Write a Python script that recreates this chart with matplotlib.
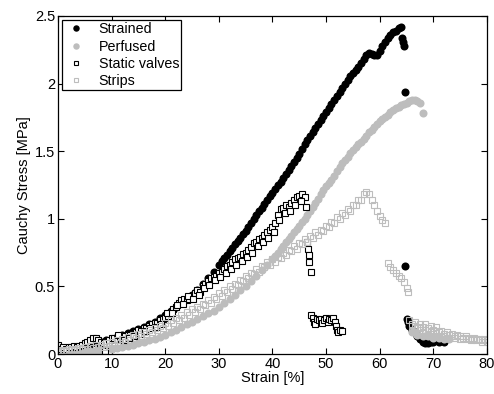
import matplotlib
matplotlib.use("Agg")
import matplotlib.pyplot as plt

plt.rcParams['font.family'] = ['Liberation Sans', 'DejaVu Sans']

# Each series: (strain [%], Cauchy stress [MPa]) pairs
strained = [
    (0, 0.02), (1, 0.03), (2, 0.04), (3, 0.045), (4, 0.05), (5, 0.06), (6, 0.07),
    (7, 0.08), (8, 0.09), (9, 0.10), (10, 0.11), (11, 0.125), (12, 0.14), (13, 0.155),
    (14, 0.17), (15, 0.185), (16, 0.20), (17, 0.22), (18, 0.24), (19, 0.265), (20, 0.29),
    (21, 0.32), (22, 0.35), (23, 0.38), (24, 0.41), (25, 0.44), (26, 0.47), (27, 0.52),
    (28, 0.56), (29, 0.61), (30, 0.66), (30.5, 0.685), (31, 0.71), (31.5, 0.735),
    (32, 0.76), (32.5, 0.785), (33, 0.81), (33.5, 0.835), (34, 0.86), (34.5, 0.885),
    (35, 0.91), (35.5, 0.94), (36, 0.97), (36.5, 1.00), (37, 1.03), (37.5, 1.055),
    (38, 1.08), (38.5, 1.11), (39, 1.14), (39.5, 1.165), (40, 1.19), (40.5, 1.22),
    (41, 1.25), (41.5, 1.275), (42, 1.30), (42.5, 1.33), (43, 1.36), (43.5, 1.39),
    (44, 1.42), (44.5, 1.45), (45, 1.48), (45.5, 1.515), (46, 1.55), (46.5, 1.58),
    (47, 1.61), (47.5, 1.64), (48, 1.67), (48.5, 1.70), (49, 1.73), (49.5, 1.76),
    (50, 1.79), (50.5, 1.82), (51, 1.85), (51.5, 1.88), (52, 1.91), (52.5, 1.94),
    (53, 1.97), (53.5, 2.00), (54, 2.03), (54.5, 2.055), (55, 2.08), (55.5, 2.10),
    (56, 2.12), (56.5, 2.15), (57, 2.18), (57.5, 2.21), (58, 2.23), (58.5, 2.22),
    (59, 2.21), (59.5, 2.21), (60, 2.24), (60.5, 2.28), (61, 2.31), (61.5, 2.34),
    (62, 2.36), (62.5, 2.38), (63, 2.39), (63.5, 2.41), (64, 2.42), (64.2, 2.34),
    (64.3, 2.31), (64.5, 2.28), (64.7, 1.94), (64.8, 0.65), (65, 0.26), (65.2, 0.24),
    (65.5, 0.21), (66, 0.18), (66.5, 0.16), (67, 0.13), (67.5, 0.11), (68, 0.09),
    (68.5, 0.08), (69, 0.08), (69.5, 0.09), (70, 0.09), (71, 0.09), (72, 0.09),
]

perfused = [
    (0, 0.0), (1, 0.005), (2, 0.01), (3, 0.012), (4, 0.015), (5, 0.02), (6, 0.022),
    (7, 0.025), (8, 0.03), (9, 0.035), (10, 0.04), (11, 0.045), (12, 0.05), (13, 0.06),
    (14, 0.07), (15, 0.08), (16, 0.09), (17, 0.10), (18, 0.11), (19, 0.125), (20, 0.14),
    (21, 0.16), (22, 0.18), (23, 0.20), (24, 0.22), (25, 0.24), (26, 0.26), (27, 0.28),
    (28, 0.30), (29, 0.32), (30, 0.35), (31, 0.38), (32, 0.41), (33, 0.44), (34, 0.47),
    (35, 0.50), (36, 0.54), (37, 0.58), (38, 0.62), (39, 0.66), (40, 0.70), (40.5, 0.725),
    (41, 0.75), (41.5, 0.775), (42, 0.80), (42.5, 0.825), (43, 0.85), (43.5, 0.875),
    (44, 0.90), (44.5, 0.925), (45, 0.95), (45.5, 0.975), (46, 1.00), (46.5, 1.03),
    (47, 1.06), (47.5, 1.09), (48, 1.12), (48.5, 1.15), (49, 1.18), (49.5, 1.21),
    (50, 1.24), (50.5, 1.265), (51, 1.29), (51.5, 1.32), (52, 1.35), (52.5, 1.38),
    (53, 1.41), (53.5, 1.435), (54, 1.46), (54.5, 1.485), (55, 1.51), (55.5, 1.53),
    (56, 1.55), (56.5, 1.57), (57, 1.59), (57.5, 1.615), (58, 1.64), (58.5, 1.66),
    (59, 1.68), (59.5, 1.70), (60, 1.72), (60.5, 1.74), (61, 1.75), (61.5, 1.77),
    (62, 1.79), (62.5, 1.805), (63, 1.82), (63.5, 1.83), (64, 1.84), (64.5, 1.85),
    (65, 1.86), (65.5, 1.87), (66, 1.88), (66.5, 1.88), (67, 1.87), (67.5, 1.86),
    (68, 1.78),
    (66, 0.16), (67, 0.14), (68, 0.13), (69, 0.13), (70, 0.12), (71, 0.12), (72, 0.11),
    (73, 0.11),
]

static_valves = [
    (0, 0.07), (0.5, 0.04), (1, 0.05), (1.5, 0.04), (2, 0.05), (2.5, 0.05), (3, 0.06),
    (3.5, 0.05), (4, 0.06), (4.5, 0.07), (5, 0.08), (5.5, 0.09), (6, 0.10), (6.5, 0.12),
    (7, 0.12), (7.5, 0.10), (8, 0.09), (8.5, 0.08), (8.8, 0.02), (9.5, 0.10), (10, 0.12),
    (10.5, 0.12), (11, 0.11), (11.5, 0.12), (12, 0.12), (12.5, 0.13), (13, 0.14),
    (13.5, 0.14), (14, 0.15), (14.5, 0.16), (15, 0.18), (15.5, 0.17), (16, 0.19),
    (16.5, 0.19), (17, 0.21), (17.5, 0.22), (18, 0.23), (18.5, 0.23), (19, 0.25),
    (19.5, 0.26), (20, 0.27), (20.5, 0.28), (21, 0.31), (21.5, 0.33), (22, 0.35),
    (22.5, 0.38), (23, 0.40), (23.5, 0.41), (24, 0.40), (24.5, 0.41), (25, 0.43),
    (25.5, 0.45), (26, 0.47), (26.5, 0.46), (27, 0.50), (27.5, 0.52), (28, 0.54),
    (28.5, 0.56), (29, 0.57), (29.5, 0.58), (30, 0.60), (30.5, 0.61), (31, 0.63),
    (31.5, 0.65), (32, 0.66), (32.5, 0.68), (33, 0.70), (33.5, 0.71), (34, 0.72),
    (34.5, 0.74), (35, 0.75), (35.5, 0.77), (36, 0.79), (36.5, 0.82), (37, 0.83),
    (37.5, 0.85), (38, 0.86), (38.5, 0.88), (39, 0.90), (39.5, 0.92), (40, 0.94),
    (40.5, 0.97), (41, 1.03), (41.5, 1.07), (42, 1.08), (42.5, 1.10), (43, 1.09),
    (43.5, 1.12), (44, 1.14), (44.5, 1.16), (45, 1.17), (45.5, 1.18), (46, 1.16),
    (46.2, 1.09), (46.5, 0.83), (46.7, 0.78), (46.8, 0.73), (46.9, 0.68), (47.1, 0.61),
    (47.2, 0.29), (47.5, 0.27), (47.8, 0.24), (48, 0.22), (48.3, 0.26), (48.6, 0.25),
    (49, 0.26), (49.3, 0.23), (49.6, 0.25), (50, 0.27), (50.3, 0.24), (50.6, 0.26),
    (51, 0.25), (51.3, 0.27), (51.6, 0.24), (51.9, 0.21), (52.1, 0.18), (52.3, 0.16),
    (52.6, 0.18), (53, 0.17),
    # second, slightly lower run of the loading branch
    (11.25, 0.14), (12.25, 0.10), (13.25, 0.12), (14.25, 0.13), (15.25, 0.15),
    (16.25, 0.17), (17.25, 0.19), (18.25, 0.20), (19.25, 0.22), (20.25, 0.30),
    (21.25, 0.30), (22.25, 0.36), (23.25, 0.37), (24.25, 0.43), (25.25, 0.41),
    (26.25, 0.44), (27.25, 0.49), (28.25, 0.51), (29.25, 0.55), (30.25, 0.57),
    (31.25, 0.60), (32.25, 0.63), (33.25, 0.66), (34.25, 0.69), (35.25, 0.72),
    (36.25, 0.75), (37.25, 0.80), (38.25, 0.83), (39.25, 0.86), (40.25, 0.90),
    (41.25, 0.99), (42.25, 1.04), (43.25, 1.06), (44.25, 1.10), (45.25, 1.13),
]

strips = [
    (0, 0.03), (1, 0.03), (2, 0.035), (3, 0.04), (4, 0.045), (5, 0.05), (6, 0.06),
    (7, 0.065), (8, 0.07), (9, 0.08), (10, 0.09), (11, 0.10), (12, 0.11), (13, 0.125),
    (14, 0.14), (15, 0.15), (16, 0.165), (17, 0.18), (18, 0.195), (19, 0.21), (20, 0.23),
    (21, 0.25), (22, 0.27), (23, 0.29), (24, 0.31), (25, 0.33), (26, 0.35), (27, 0.37),
    (28, 0.40), (29, 0.42), (30, 0.45), (31, 0.47), (32, 0.50), (33, 0.52), (34, 0.55),
    (35, 0.58), (36, 0.60), (37, 0.63), (38, 0.65), (39, 0.68), (40, 0.70), (41, 0.72),
    (42, 0.75), (43, 0.77), (44, 0.80), (45, 0.82), (46, 0.85), (47, 0.87), (48, 0.90),
    (49, 0.92), (50, 0.95), (51, 0.98), (52, 1.01), (53, 1.04), (54, 1.07), (55, 1.10),
    (56, 1.14), (57, 1.18), (57.5, 1.20), (58, 1.18), (58.5, 1.14), (59, 1.10),
    (59.5, 1.06), (60, 1.02), (60.5, 0.99), (61, 0.97),
    (61.6, 0.67), (62, 0.64), (62.5, 0.62), (63, 0.60), (63.5, 0.58), (64, 0.56),
    (64.5, 0.53), (65, 0.49), (65.3, 0.46),
    (65.5, 0.25), (66, 0.22), (66.5, 0.21), (67, 0.20), (67.5, 0.19), (68, 0.20),
    (68.5, 0.18), (69, 0.19), (69.5, 0.17), (70, 0.18), (70.5, 0.17), (71, 0.16),
    (71.5, 0.17), (72, 0.15), (72.5, 0.16), (73, 0.14), (73.5, 0.15), (74, 0.13),
    (74.5, 0.14), (75, 0.13), (75.5, 0.12), (76, 0.13), (76.5, 0.12), (77, 0.11),
    (77.5, 0.12), (78, 0.11), (78.5, 0.11), (79, 0.10), (79.5, 0.11), (80, 0.10),
    # lower edge of the loading band
    (0.5, 0.02), (1.5, 0.025), (2.5, 0.03), (3.5, 0.03), (4.5, 0.035), (5.5, 0.04),
    (6.5, 0.045), (7.5, 0.05), (8.5, 0.055), (9.5, 0.06), (10.5, 0.07), (11.5, 0.08),
    (12.5, 0.09), (13.5, 0.10), (14.5, 0.115), (15.5, 0.13), (16.5, 0.145), (17.5, 0.16),
    (18.5, 0.175), (19.5, 0.19), (20.5, 0.21), (21.5, 0.23), (22.5, 0.25), (23.5, 0.27),
    (24.5, 0.29), (25.5, 0.31), (26.5, 0.33), (27.5, 0.36), (28.5, 0.38), (29.5, 0.41),
    (30.5, 0.43), (31.5, 0.46), (32.5, 0.48), (33.5, 0.51), (34.5, 0.54), (35.5, 0.56),
    (36.5, 0.59), (37.5, 0.61), (38.5, 0.64), (39.5, 0.66), (40.5, 0.68), (41.5, 0.71),
    (42.5, 0.73), (43.5, 0.76), (44.5, 0.78), (45.5, 0.81), (46.5, 0.83), (47.5, 0.86),
    (48.5, 0.88), (49.5, 0.91), (50.5, 0.94), (51.5, 0.97), (52.5, 1.00), (53.5, 1.03),
    (54.5, 1.06), (55.5, 1.10), (56.5, 1.14),
    # second run of the tail
    (66, 0.17), (66.5, 0.24), (67, 0.15), (67.5, 0.22), (68, 0.16), (68.5, 0.22),
    (69, 0.14), (69.5, 0.21), (70, 0.15), (70.5, 0.20), (71, 0.13), (72, 0.13),
    (73, 0.12), (74, 0.12), (75, 0.11), (76, 0.11), (77, 0.10), (78, 0.10), (79, 0.09),
    (80, 0.09),
]

x_ticks = [0, 10, 20, 30, 40, 50, 60, 70, 80]
y_ticks = [0, 0.5, 1, 1.5, 2, 2.5]
x_tick_labels = ['0', '10', '20', '30', '40', '50', '60', '70', '80']
y_tick_labels = ['0', '0.5', '1', '1.5', '2', '2.5']

GREY = '#bdbdbd'


def xy(points):
    xs, ys = zip(*points)
    return list(xs), list(ys)


fig = plt.figure(figsize=(4.94, 3.94), dpi=100)
ax = fig.add_axes([0.1174, 0.1015, 0.8684, 0.8579])

x, y = xy(strained)
ax.plot(x, y, 'o', color='black', markersize=5.8, markeredgewidth=0, label='Strained')
x, y = xy(perfused)
ax.plot(x, y, 'o', color=GREY, markersize=5.8, markeredgewidth=0, label='Perfused')
x, y = xy(static_valves)
ax.plot(x, y, 's', markerfacecolor='white', markeredgecolor='black',
        markersize=3.8, markeredgewidth=0.8, label='Static valves')
x, y = xy(strips)
ax.plot(x, y, 's', markerfacecolor='none', markeredgecolor=GREY,
        markersize=3.8, markeredgewidth=0.8, label='Strips')

ax.set_xlim(0, 80)
ax.set_ylim(0, 2.5)
ax.set_xticks(x_ticks)
ax.set_xticklabels(x_tick_labels)
ax.set_yticks(y_ticks)
ax.set_yticklabels(y_tick_labels)
ax.tick_params(direction='in', top=True, right=True, length=4, width=0.8,
               labelsize=10.5, pad=2)
for sp in ax.spines.values():
    sp.set_linewidth(0.9)

ax.set_xlabel('Strain [%]', fontsize=10.5, labelpad=0)
ax.set_ylabel('Cauchy Stress [MPa]', fontsize=10.5, labelpad=3)

leg = ax.legend(loc='upper left', fontsize=10.3, frameon=True, fancybox=False,
                edgecolor='black', framealpha=1, borderaxespad=0.3, handlelength=1.6,
                handletextpad=0.8, borderpad=0.15, labelspacing=0.22, markerscale=0.8)
leg.get_frame().set_linewidth(0.9)

fig.savefig('out.png', dpi=100)
